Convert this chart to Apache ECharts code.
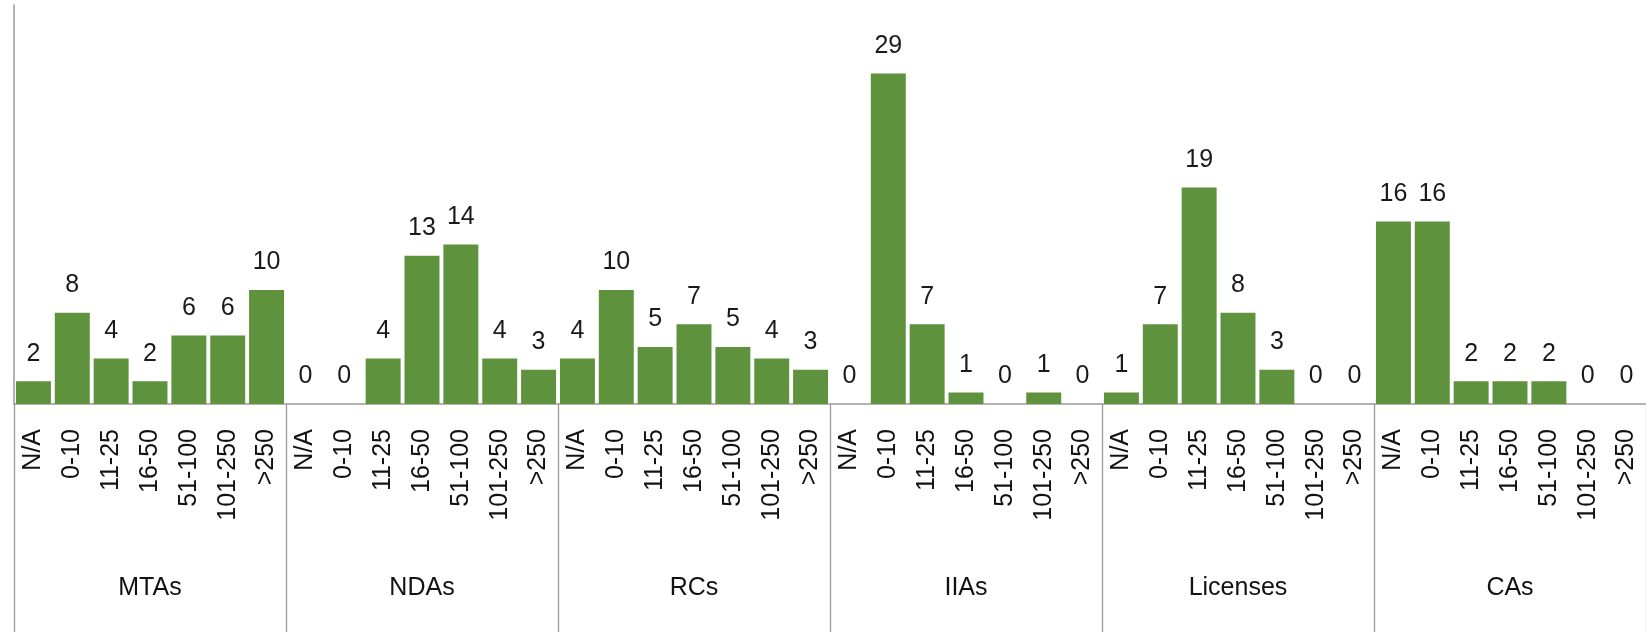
<!DOCTYPE html>
<html>
<head>
<meta charset="utf-8">
<script src="https://cdn.jsdelivr.net/npm/echarts@6/dist/echarts.min.js"></script>
<style>
  html, body { margin: 0; padding: 0; background: #fff; }
  #chart { width: 1646px; height: 632px; }
</style>
</head>
<body>
<div id="chart"></div>
<script>
const groups = ['MTAs', 'NDAs', 'RCs', 'IIAs', 'Licenses', 'CAs']
const sizeBins = ['N/A', '0-10', '11-25', '16-50', '51-100', '101-250', '>250']

const mtas = [2, 8, 4, 2, 6, 6, 10]
const ndas = [0, 0, 4, 13, 14, 4, 3]
const rcs = [4, 10, 5, 7, 5, 4, 3]
const iias = [0, 29, 7, 1, 0, 1, 0]
const licenses = [1, 7, 19, 8, 3, 0, 0]
const cas = [16, 16, 2, 2, 2, 0, 0]

const groupValues = [mtas, ndas, rcs, iias, licenses, cas]

// one category per bin per group
const categories = []
const values = []
groupValues.forEach((vals, g) => {
  vals.forEach((v, i) => {
    categories.push(g + '|' + sizeBins[i])
    values.push(v)
  })
})

const font = '"Liberation Sans", Arial, sans-serif'
const axisGray = '#9a9a9a'

const chart = echarts.init(document.getElementById('chart'))
chart.setOption({
  animation: false,
  grid: { left: 14, top: 5, width: 1641, height: 399 },
  xAxis: [
    {
      type: 'category',
      data: categories,
      position: 'bottom',
      axisLine: { lineStyle: { color: axisGray, width: 1.5 } },
      axisTick: { show: false },
      axisLabel: {
        interval: 0,
        rotate: 90,
        margin: 25,
        fontFamily: font,
        fontSize: 25,
        color: '#111',
        formatter: v => v.split('|')[1],
      },
    },
    {
      type: 'category',
      data: groups,
      position: 'bottom',
      axisLine: { show: false },
      axisTick: { show: true, length: 240, lineStyle: { color: axisGray, width: 1.3 } },
      axisLabel: {
        interval: 0,
        margin: 172,
        fontFamily: font,
        fontSize: 25,
        color: '#111',
      },
    },
  ],
  yAxis: {
    type: 'value',
    min: 0,
    max: 35,
    axisLine: { show: true, lineStyle: { color: axisGray, width: 1.5 } },
    axisTick: { show: false },
    axisLabel: { show: false },
    splitLine: { show: false },
  },
  series: [{
    type: 'bar',
    data: values,
    xAxisIndex: 0,
    barCategoryGap: '10%',
    itemStyle: { color: '#5f923d' },
    label: {
      show: true,
      position: 'top',
      distance: 15,
      fontFamily: font,
      fontSize: 25,
      color: '#1a1a1a',
    },
  }],
})
</script>
</body>
</html>
